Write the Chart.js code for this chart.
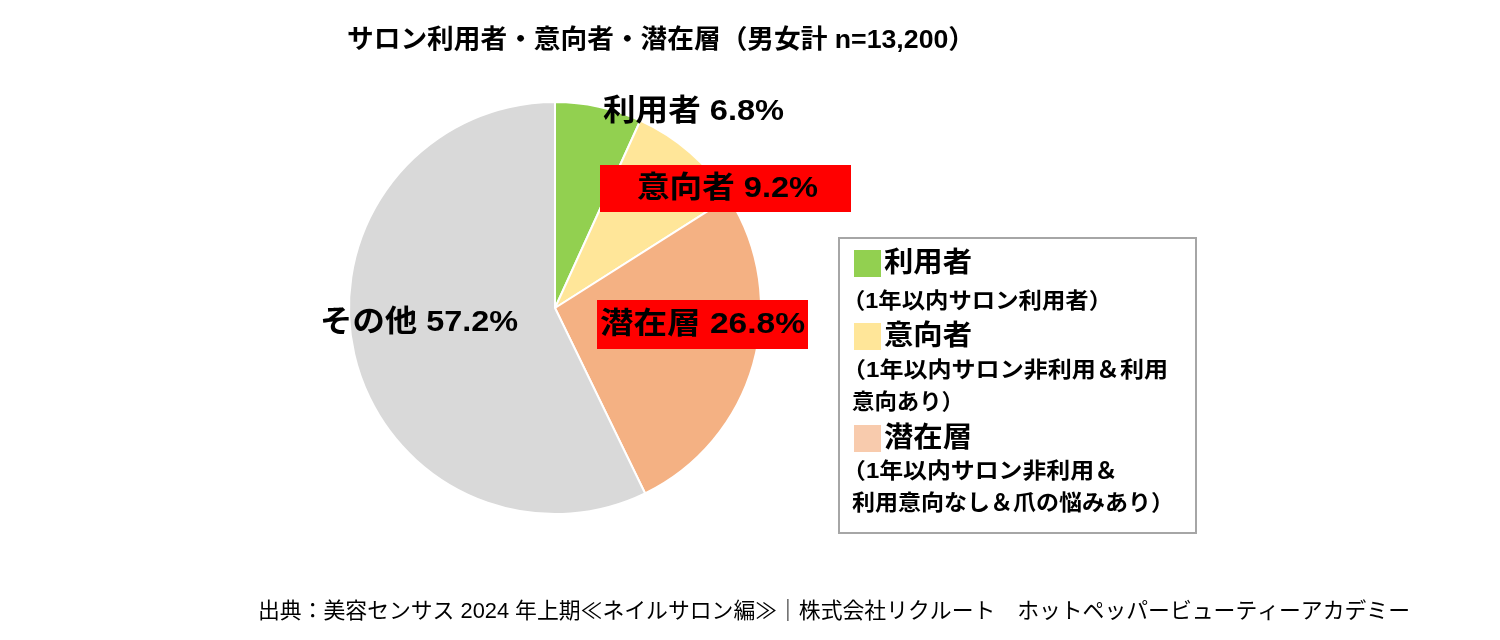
<!DOCTYPE html>
<html lang="ja">
<head>
<meta charset="utf-8">
<script src="https://cdn.jsdelivr.net/npm/chart.js@4/dist/chart.umd.min.js"></script>
<style>
    html, body { margin: 0; padding: 0; background: #ffffff; }
    #wrap { position: relative; width: 1500px; height: 640px; }
</style>
</head>
<body>
<div id="wrap"><canvas id="salonPie" width="1500" height="640"></canvas></div>
<script>
// Chart data
const categories = ['利用者', '意向者', '潜在層', 'その他'];
const shares = [6.8, 9.2, 26.8, 57.2];
const sliceColors = ['#92D050', '#FFE699', '#F4B183', '#D9D9D9'];

const chartTitle = 'サロン利用者・意向者・潜在層（男女計 n=13,200）';
const sourceNote = '出典：美容センサス 2024 年上期≪ネイルサロン編≫｜株式会社リクルート　ホットペッパービューティーアカデミー';

// Legend entries (swatch colour, heading, description lines)
const legendColors = ['#92D050', '#FFE699', '#F8CBAD'];
const legendHeads = ['利用者', '意向者', '潜在層'];
const legendNotes = [
    ['（1年以内サロン利用者）'],
    ['（1年以内サロン非利用＆利用', '意向あり）'],
    ['（1年以内サロン非利用＆', '利用意向なし＆爪の悩みあり）']
];

const FONT = '"Liberation Sans", "Noto Sans CJK JP", sans-serif';

// Slice label placement: left edge, width, vertical centre, optional red box
const sliceLabels = [
    { x: 603, w: 181, y: 112, box: null },
    { x: 637, w: 181, y: 189, box: { x: 600, y: 165, w: 251, h: 47 } },
    { x: 600, w: 205, y: 325, box: { x: 597, y: 300, w: 211, h: 49 } },
    { x: 320, w: 198, y: 323, box: null }
];

// legend layout: left edge and width per line, vertical centres
const legendHeadW = 88;
const legendNoteX = [[842], [842, 852], [842, 852]];
const legendNoteW = [[270], [326, 112], [276, 322]];
const legendHeadY = [264, 337, 439];
const legendNoteY = [[302], [371, 403], [472, 504]];

// draw text starting at x, stretched/compressed to width w
function fitText(ctx, text, x, y, w) {
    const m = ctx.measureText(text).width;
    ctx.save();
    ctx.translate(x, y);
    ctx.scale(w / m, 1);
    ctx.textAlign = 'left';
    ctx.fillText(text, 0, 0);
    ctx.restore();
}

const overlayPlugin = {
    id: 'overlay',
    afterDraw(chart) {
        const ctx = chart.ctx;
        ctx.save();
        ctx.fillStyle = '#000';
        ctx.textBaseline = 'middle';

        // title
        ctx.font = 'bold 26px ' + FONT;
        fitText(ctx, chartTitle, 347, 41, 628);

        // slice labels
        ctx.font = 'bold 30px ' + FONT;
        sliceLabels.forEach((lab, i) => {
            if (lab.box) {
                ctx.fillStyle = '#FF0000';
                ctx.fillRect(lab.box.x, lab.box.y, lab.box.w, lab.box.h);
            }
            ctx.fillStyle = '#000';
            fitText(ctx, categories[i] + ' ' + shares[i].toFixed(1) + '%', lab.x, lab.y, lab.w);
        });

        // legend box
        ctx.strokeStyle = '#A6A6A6';
        ctx.lineWidth = 2;
        ctx.strokeRect(839, 238, 357, 295);
        legendHeads.forEach((head, i) => {
            const y = legendHeadY[i];
            ctx.fillStyle = legendColors[i];
            ctx.fillRect(854, y - 14, 27, 27);
            ctx.fillStyle = '#000';
            ctx.font = 'bold 28px ' + FONT;
            fitText(ctx, head, 884, y, legendHeadW);
            ctx.font = 'bold 22px ' + FONT;
            legendNotes[i].forEach((line, j) => {
                fitText(ctx, line, legendNoteX[i][j], legendNoteY[i][j], legendNoteW[i][j]);
            });
        });

        // source note
        ctx.font = '22px ' + FONT;
        fitText(ctx, sourceNote, 258, 612, 1152);
        ctx.restore();
    }
};

new Chart(document.getElementById('salonPie').getContext('2d'), {
    type: 'pie',
    data: {
        labels: categories,
        datasets: [{
            data: shares,
            backgroundColor: sliceColors,
            borderColor: '#ffffff',
            borderWidth: 2
        }]
    },
    options: {
        responsive: false,
        animation: false,
        layout: {
            padding: { left: 348, right: 738, top: 101, bottom: 125 }
        },
        plugins: {
            legend: { display: false },
            tooltip: { enabled: false },
            title: { display: false }
        }
    },
    plugins: [overlayPlugin]
});
</script>
</body>
</html>
